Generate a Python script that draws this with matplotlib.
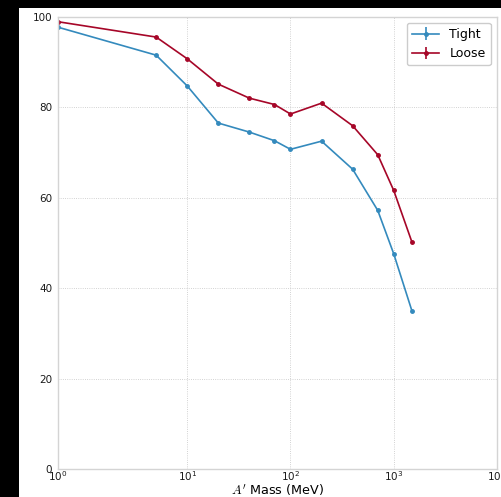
import matplotlib
matplotlib.use("Agg")
import matplotlib.pyplot as plt
from matplotlib.patches import Rectangle
from matplotlib.ticker import NullLocator

# A' masses (MeV) and tracker acceptance (%)
mass = [1, 5, 10, 20, 40, 70, 100, 200, 400, 700, 1000, 1500]
tight = [97.7, 91.5, 84.7, 76.5, 74.5, 72.6, 70.7, 72.5, 66.3, 57.2, 47.6, 35.0]
loose = [98.9, 95.5, 90.7, 85.1, 82.0, 80.6, 78.5, 80.9, 75.9, 69.5, 61.6, 50.2]
err = [0.0] * len(mass)

plt.rcParams['mathtext.fontset'] = 'cm'

W, H = 502, 497
fig = plt.figure(figsize=(W / 100, H / 100), dpi=100, facecolor='black')
# white page area (the reference is a crop with a black border on the left/top)
fig.patches.append(Rectangle((19 / W, 0), 1 - 19 / W, 1 - 8 / H,
                             transform=fig.transFigure, facecolor='white',
                             edgecolor='none', zorder=-10))

ax = fig.add_axes([57.7 / W, (H - 469.3) / H, (497 - 57.7) / W, (469.3 - 16.7) / H])
ax.set_facecolor('white')

ax.errorbar(mass, tight, yerr=err, color='#348ABD', marker='.', markersize=5,
            lw=1.2, label='Tight')
ax.errorbar(mass, loose, yerr=err, color='#A60628', marker='.', markersize=5,
            lw=1.2, label='Loose')

ax.set_xscale('symlog', linthresh=2)
ax.set_xlim(1, 1e4)
ax.set_ylim(0, 100)
ax.set_yticks([0, 20, 40, 60, 80, 100])
ax.xaxis.set_minor_locator(NullLocator())

ax.grid(True, which='major', color='#c4c4c4', linestyle=':', linewidth=0.6)
for s in ax.spines.values():
    s.set_color('#d4d4d4')
    s.set_linewidth(1.0)
ax.tick_params(length=0, labelsize=7.5, colors='#1a1a1a')
ax.tick_params(axis='y', pad=4)
ax.tick_params(axis='x', pad=0)

ax.set_xlabel(r"$A'$ Mass (MeV)", fontsize=9.2, labelpad=-0.5)
ax.set_ylabel('Tracker Acceptance (%)', fontsize=9.2, labelpad=12)

leg = ax.legend(loc='upper right', fontsize=9, frameon=True, fancybox=True,
                framealpha=1, edgecolor='#cccccc', handlelength=2.2)

fig.savefig('out.png', dpi=100, facecolor=fig.get_facecolor())
